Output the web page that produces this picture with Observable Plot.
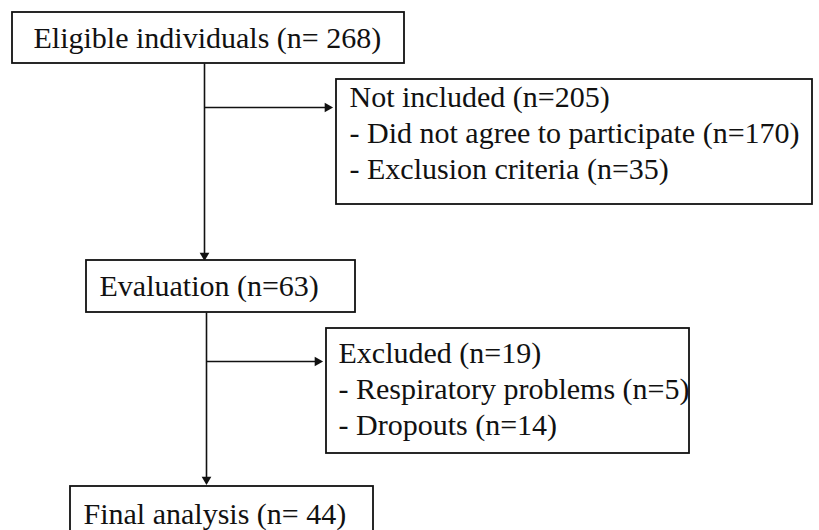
<!DOCTYPE html>
<html>
<head>
<meta charset="utf-8">
<script src="https://cdn.jsdelivr.net/npm/d3@7"></script>
<script src="https://cdn.jsdelivr.net/npm/@observablehq/plot@0.6"></script>
</head>
<body style="margin:0;padding:0;background:#fff">
<div id="flow"></div>
<script>
// ---- data (labels and counts) ----
const stageNames = ["Eligible individuals", "Evaluation", "Final analysis"];
const stageCounts = ["n= 268", "n=63", "n= 44"];
const sideTitles = ["Not included", "Excluded"];
const sideCounts = ["n=205", "n=19"];
const sideItems = [
  ["Did not agree to participate (n=170)", "Exclusion criteria (n=35)"],
  ["Respiratory problems (n=5)", "Dropouts (n=14)"]
];

// ---- layout (pixel frame of the 819x530 canvas) ----
const mainBoxes = [
  {x1: 12, x2: 404, y1: 12, y2: 63, tx: 33},
  {x1: 86, x2: 355, y1: 260, y2: 312, tx: 99},
  {x1: 70, x2: 373, y1: 486, y2: 545, tx: 83}
];
const sideBoxes = [
  {x1: 336, x2: 812, y1: 79, y2: 204, tx: 349, ty: 97},
  {x1: 326, x2: 689, y1: 328, y2: 453, tx: 338, ty: 353}
];
const lineGap = 36;
const trunkX = [204, 206];
const branchY = [107, 361];

const mainRects = mainBoxes.map((b, i) => ({...b, label: `${stageNames[i]} (${stageCounts[i]})`, ty: i === 2 ? 514 : (b.y1 + b.y2) / 2}));
const sideRects = sideBoxes.map((b) => ({...b}));
const sideText = [];
sideBoxes.forEach((b, i) => {
  const lines = [`${sideTitles[i]} (${sideCounts[i]})`, ...sideItems[i].map(s => "- " + s)];
  lines.forEach((t, j) => sideText.push({x: b.tx, y: b.ty + j * lineGap, t}));
});

// connectors: vertical trunks and horizontal branches
const segs = [
  {x1: trunkX[0], y1: mainBoxes[0].y2, x2: trunkX[0], y2: mainBoxes[1].y1 - 6},
  {x1: trunkX[1], y1: mainBoxes[1].y2, x2: trunkX[1], y2: mainBoxes[2].y1 - 8},
  {x1: trunkX[0], y1: branchY[0], x2: sideBoxes[0].x1 - 10, y2: branchY[0]},
  {x1: trunkX[1], y1: branchY[1], x2: sideBoxes[1].x1 - 10, y2: branchY[1]}
];
const heads = [
  {x: trunkX[0], y: mainBoxes[1].y1 - 5, r: 180},
  {x: trunkX[1], y: mainBoxes[2].y1 - 7, r: 180},
  {x: sideBoxes[0].x1 - 9, y: branchY[0], r: 90},
  {x: sideBoxes[1].x1 - 9, y: branchY[1], r: 90}
];

const fs = 30;

const chart = Plot.plot({
  width: 819,
  height: 530,
  margin: 0,
  x: {domain: [0, 819], axis: null},
  y: {domain: [530, 0], axis: null},
  marks: [
    Plot.link(segs, {x1: "x1", y1: "y1", x2: "x2", y2: "y2", stroke: "#111", strokeWidth: 1.6}),
    Plot.dot(heads, {x: "x", y: "y", rotate: "r", symbol: "triangle", r: 3.6, fill: "#111", stroke: "none"}),
    Plot.rect(mainRects, {x1: "x1", x2: "x2", y1: "y1", y2: "y2", fill: "#fff", stroke: "#111", strokeWidth: 1.8}),
    Plot.rect(sideRects, {x1: "x1", x2: "x2", y1: "y1", y2: "y2", fill: "#fff", stroke: "#111", strokeWidth: 1.8}),
    Plot.text(mainRects, {x: "tx", y: "ty", text: "label", textAnchor: "start", fontSize: fs, fontFamily: "Liberation Serif", fill: "#111"}),
    Plot.text(sideText, {x: "x", y: "y", text: "t", textAnchor: "start", fontSize: fs, fontFamily: "Liberation Serif", fill: "#111"})
  ]
});
d3.select(chart).selectAll("text").style("font-family", "'Liberation Serif'", "important");
document.getElementById("flow").appendChild(chart);
// force font resolution and layout so the serif face is used at capture time
document.fonts.check("30px 'Liberation Serif'");
document.fonts.load("30px 'Liberation Serif'");
chart.querySelectorAll("text").forEach(t => { getComputedStyle(t).fontFamily; t.getComputedTextLength(); });
</script>
</body>
</html>
